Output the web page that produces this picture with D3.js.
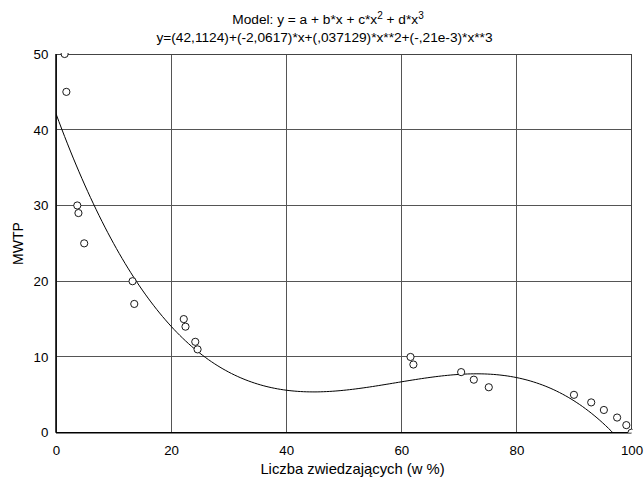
<!DOCTYPE html>
<html><head><meta charset="utf-8">
<script src="https://cdn.jsdelivr.net/npm/d3@7"></script>
<style>body{margin:0;background:#fff}text{font-family:"Liberation Sans",Arial,sans-serif;fill:#000}</style>
</head><body><svg id="c" width="644" height="478"></svg>
<script>
const xVals = [1.5, 1.8, 3.7, 3.9, 4.9, 13.3, 13.6, 22.2, 22.5, 24.2, 24.6, 61.6, 62.1, 70.4, 72.6, 75.2, 90.0, 93.0, 95.2, 97.5, 99.1, 100];
const yVals = [50, 45, 30, 29, 25, 20, 17, 15, 14, 12, 11, 10, 9, 8, 7, 6, 5, 4, 3, 2, 1, 0];
const coefs = [42.1124, -2.0617, 0.037129, -0.00021];
const xTicks = [0, 20, 40, 60, 80, 100];
const yTicks = [0, 10, 20, 30, 40, 50];
const title1 = "Model: y = a + b*x + c*x";
const title2 = "y=(42,1124)+(-2,0617)*x+(,037129)*x**2+(-,21e-3)*x**3";
const xLabel = "Liczba zwiedzających (w %)";
const yLabel = "MWTP";

const svg = d3.select("#c");
const m = {l:56, r:631.5, t:54, b:432.7};
const x = d3.scaleLinear().domain([0,100]).range([m.l, m.r]);
const y = d3.scaleLinear().domain([0,50]).range([m.b, m.t]);

svg.append("defs").append("clipPath").attr("id","clip").append("rect")
  .attr("x", m.l).attr("y", m.t-1).attr("width", m.r-m.l+1).attr("height", m.b-m.t+1);

// grid
const g = svg.append("g");
g.selectAll(".gx").data(xTicks.slice(1,-1)).enter().append("line")
  .attr("x1", d=>x(d)).attr("x2", d=>x(d)).attr("y1", m.t).attr("y2", m.b)
  .attr("stroke", "#555").attr("stroke-width", 1).attr("shape-rendering","crispEdges");
g.selectAll(".gy").data(yTicks.slice(1,-1)).enter().append("line")
  .attr("y1", d=>y(d)).attr("y2", d=>y(d)).attr("x1", m.l).attr("x2", m.r)
  .attr("stroke", "#555").attr("stroke-width", 1).attr("shape-rendering","crispEdges");
// frame
svg.append("rect").attr("x", m.l).attr("y", m.t).attr("width", m.r-m.l).attr("height", m.b-m.t)
  .attr("fill","none").attr("stroke","#444").attr("stroke-width",1).attr("shape-rendering","crispEdges");
svg.append("line").attr("x1",m.l).attr("x2",m.l).attr("y1",m.t).attr("y2",m.b).attr("stroke","#000").attr("stroke-width",1.5);
svg.append("line").attr("x1",m.l).attr("x2",m.r).attr("y1",m.b).attr("y2",m.b).attr("stroke","#000").attr("stroke-width",1.5);

// axes labels via d3 axis
const ax = svg.append("g").attr("transform", `translate(0,${m.b})`)
  .call(d3.axisBottom(x).tickValues(xTicks).tickSize(0).tickPadding(13).tickFormat(d3.format("d")));
ax.select(".domain").remove();
ax.selectAll("text").style("font-size","13.3px").style("font-family","Liberation Sans, Arial, sans-serif");
const ay = svg.append("g").attr("transform", `translate(${m.l},0)`)
  .call(d3.axisLeft(y).tickValues(yTicks).tickSize(0).tickPadding(7.7).tickFormat(d3.format("d")));
ay.select(".domain").remove();
ay.selectAll("text").style("font-size","13.3px").style("font-family","Liberation Sans, Arial, sans-serif");

// curve
const f = xx => coefs[0] + coefs[1]*xx + coefs[2]*xx*xx + coefs[3]*xx*xx*xx;
const cx = d3.range(0, 100.01, 0.5);
svg.append("path").attr("clip-path","url(#clip)")
  .attr("d", d3.line().x(d=>x(d)).y(d=>y(f(d)))(cx))
  .attr("fill","none").attr("stroke","#000").attr("stroke-width",1);

// points
svg.append("g").attr("clip-path","url(#clip)").selectAll("circle").data(xVals.map((v,i)=>[v,yVals[i]]))
  .enter().append("circle").attr("cx", d=>x(d[0])).attr("cy", d=>y(d[1])).attr("r", 3.6)
  .attr("fill","#fff").attr("stroke","#000").attr("stroke-width",0.9);

// titles
const t1 = svg.append("text").attr("x", 328).attr("y", 24).attr("text-anchor","middle").style("font-size","13.7px");
t1.append("tspan").text(title1);
t1.append("tspan").attr("dy",-5).style("font-size","10px").text("2");
t1.append("tspan").attr("dy",5).text(" + d*x");
t1.append("tspan").attr("dy",-5).style("font-size","10px").text("3");
svg.append("text").attr("x", 324.5).attr("y", 41.5).attr("text-anchor","middle").style("font-size","13.7px").text(title2);
svg.append("text").attr("x", 352.5).attr("y", 473.5).attr("text-anchor","middle").style("font-size","14.8px").text(xLabel);
svg.append("text").attr("transform","translate(23,243.5) rotate(-90)").attr("text-anchor","middle").style("font-size","14px").text(yLabel);
</script></body></html>
